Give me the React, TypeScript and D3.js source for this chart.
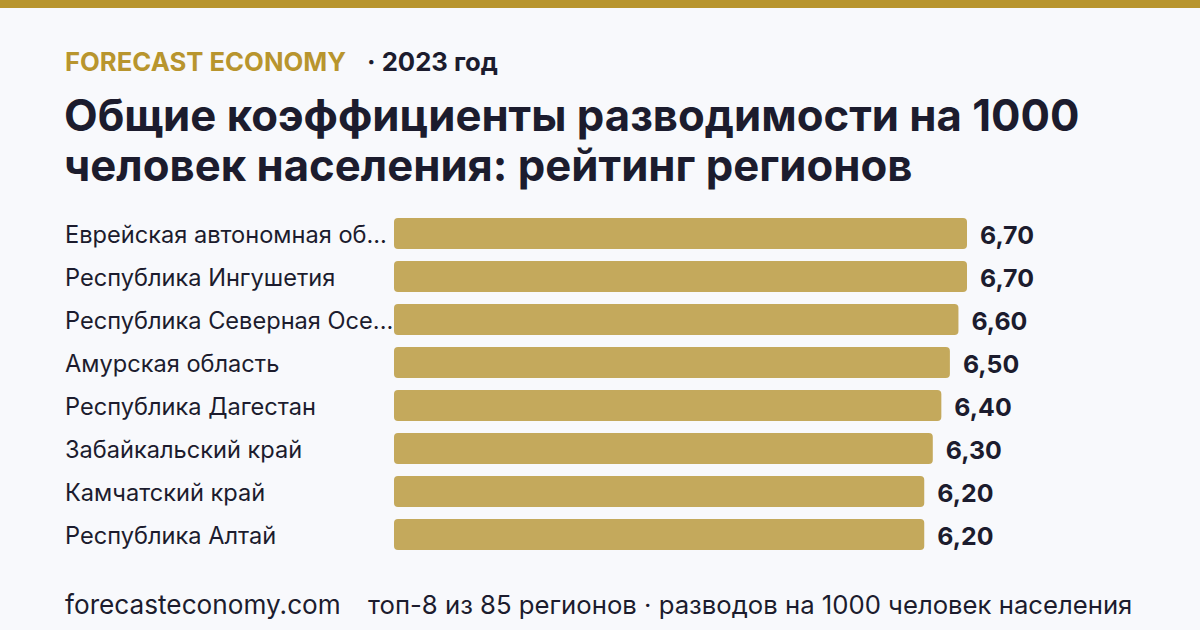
import React from 'react';
import * as d3 from 'd3';

// regions, top-8 by divorce rate per 1000 population, 2023
const regions = [
  'Еврейская автономная область',
  'Республика Ингушетия',
  'Республика Северная Осетия — Алания',
  'Амурская область',
  'Республика Дагестан',
  'Забайкальский край',
  'Камчатский край',
  'Республика Алтай',
];
const rates = [6.7, 6.7, 6.6, 6.5, 6.4, 6.3, 6.2, 6.2];

const brand = 'FORECAST ECONOMY';
const yearLabel = '· 2023 год';
const titleLines = ['Общие коэффициенты разводимости на 1000', 'человек населения: рейтинг регионов'];
const footerSite = 'forecasteconomy.com';
const footerNote = 'топ-8 из 85 регионов · разводов на 1000 человек населения';

const W = 1200;
const H = 630;
const gold = '#b8952e';
const barColor = '#c4a95c';
const ink = '#1c1c2e';
const bg = '#f8f9fc';
const font = 'Inter, "Noto Sans", sans-serif';

const truncate = (s: string, n = 23) => (s.length > n ? s.slice(0, n) + '...' : s);

const App = () => {
  const x = d3.scaleLinear().domain([0, d3.max(rates) ?? 0]).range([394, 967]);
  const y = d3
    .scaleBand()
    .domain(regions)
    .range([212, 556])
    .paddingInner(0.28)
    .paddingOuter(0.14);

  return (
    <svg width={W} height={H} style={{ position: 'absolute', left: 0, top: 0 }} fontFamily={font}>
      <rect width={W} height={H} fill={bg} />
      <rect width={W} height={8} fill={gold} />

      <text x={65} y={71} fontSize={25.7} fontWeight={700} fill={gold}>
        {brand}
      </text>
      <text x={367} y={71} fontSize={25.7} fontWeight={700} fill={ink}>
        {yearLabel}
      </text>

      {titleLines.map((t, i) => (
        <text key={i} x={64} y={131 + i * 50} fontSize={43.7} fontWeight={700} fill={ink}>
          {t}
        </text>
      ))}

      {regions.map((r, i) => {
        const yy = y(r) ?? 0;
        const bw = y.bandwidth();
        return (
          <g key={r}>
            <text x={65} y={yy + bw / 2 + 1} dominantBaseline="central" fontSize={23.6} fill={ink}>
              {truncate(r)}
            </text>
            <rect x={x(0)} y={yy} width={x(rates[i]) - x(0)} height={bw} rx={4} fill={barColor} />
            <text
              x={x(rates[i]) + 13}
              y={yy + bw / 2 + 1}
              dominantBaseline="central"
              fontSize={24.9}
              fontWeight={700}
              fill={ink}
            >
              {d3.format('.2f')(rates[i]).replace('.', ',')}
            </text>
          </g>
        );
      })}

      <text x={65} y={614} fontSize={26.2} fill={ink}>
        {footerSite}
      </text>
      <text x={368} y={614} fontSize={25.7} fill={ink}>
        {footerNote}
      </text>
    </svg>
  );
};

export default App;
